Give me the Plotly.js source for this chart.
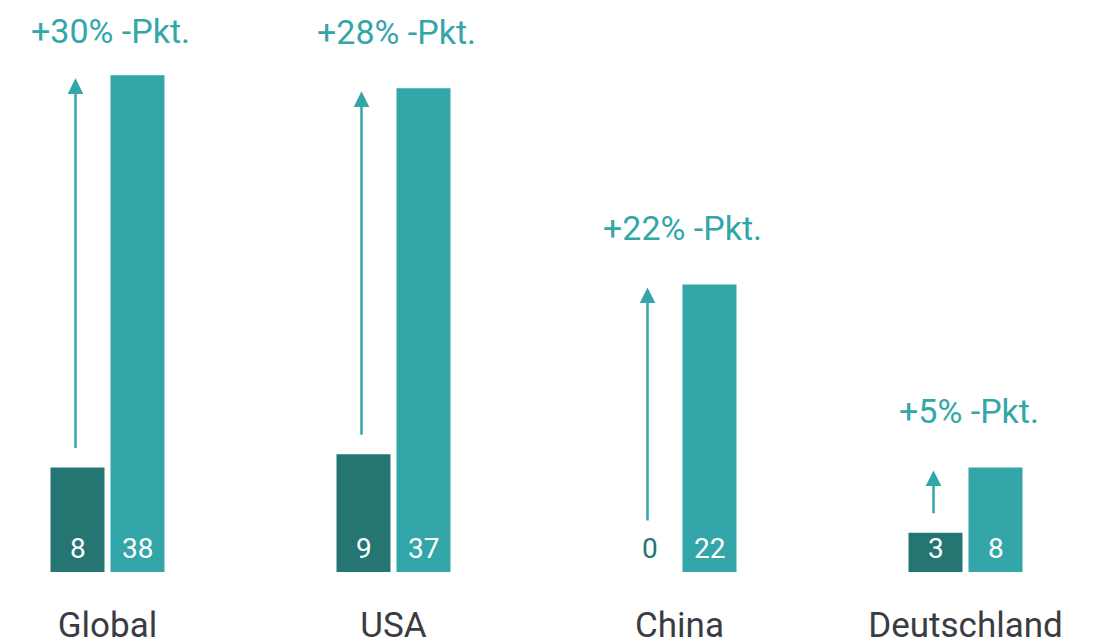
<!DOCTYPE html>
<html>
<head>
<meta charset="utf-8">
<script src="https://cdn.plot.ly/plotly-3.0.1.min.js"></script>
<style>html,body{margin:0;padding:0;background:#fff;}#chart{width:1097px;height:644px;}</style>
</head>
<body>
<div id="chart"></div>
<script>
const categories = ["Global", "USA", "China", "Deutschland"];
const before = [8, 9, 0, 3];
const after = [38, 37, 22, 8];
const changeLabels = ["+30% -Pkt.", "+28% -Pkt.", "+22% -Pkt.", "+5% -Pkt."];

const W = 1097, H = 644;
const mb = 72;
const plotH = H - mb;
const yMax = 43.76;
const pxPerUnit = plotH / yMax;
const unitPx = 286;           // px per category
const xMin = -107.5 / unitPx;
const xMax = xMin + W / unitPx;
const barW = 54 / unitPx;

const DARK = "#257573";
const LIGHT = "#32a6a8";
const TXT = "#32a6a8";

const traceBefore = {
  type: "bar", x: categories, y: before,
  width: categories.map(() => barW),
  offset: categories.map(() => -57 / unitPx),
  marker: {color: DARK}, hoverinfo: "skip"
};
const traceAfter = {
  type: "bar", x: categories, y: after,
  width: categories.map(() => barW),
  offset: categories.map(() => 3 / unitPx),
  marker: {color: LIGHT}, hoverinfo: "skip"
};

const annotations = [];
categories.forEach((c, i) => {
  const topPx = plotH - after[i] * pxPerUnit;
  const darkTopPx = plotH - before[i] * pxPerUnit;
  // change label (centre ~56px above bar top, not above 31px from top)
  const centerPx = Math.max(31, topPx - 56);
  annotations.push({
    x: c, y: after[i], xref: "x", yref: "y", xshift: 3,
    text: changeLabels[i], showarrow: false,
    yanchor: "middle", yshift: topPx - centerPx,
    font: {family: "Roboto", size: 34, color: TXT}
  });
  // arrow
  const headPx = topPx + 3;
  const tailPx = Math.min(darkTopPx, plotH - 32) - 18;
  annotations.push({
    x: c, y: after[i], xref: "x", yref: "y",
    xshift: -32, yshift: -3,
    text: "", showarrow: true, ax: 0, ay: tailPx - headPx,
    arrowhead: 2, arrowsize: 1.25, arrowwidth: 2.5, arrowcolor: LIGHT, standoff: 0
  });
  // value labels
  annotations.push({
    x: c, y: 0, xref: "x", yref: "y", xshift: -30, yshift: 23.5,
    text: String(before[i]), showarrow: false, yanchor: "middle",
    font: {family: "Roboto", size: 28, color: before[i] === 0 ? DARK : "#ffffff"}
  });
  annotations.push({
    x: c, y: 0, xref: "x", yref: "y", xshift: 30, yshift: 23.5,
    text: String(after[i]), showarrow: false, yanchor: "middle",
    font: {family: "Roboto", size: 28, color: "#ffffff"}
  });
});

const layout = {
  width: W, height: H,
  margin: {l: 0, r: 0, t: 0, b: mb, pad: 0},
  paper_bgcolor: "#ffffff", plot_bgcolor: "#ffffff",
  showlegend: false,
  barmode: "group",
  xaxis: {
    type: "category", range: [xMin, xMax], showgrid: false, zeroline: false,
    showline: false, ticks: "", ticklabelstandoff: 29,
    tickfont: {family: "Roboto", size: 35, color: "#3b3b42"}
  },
  yaxis: {range: [0, yMax], visible: false, showgrid: false, zeroline: false},
  annotations: annotations,
  font: {family: "Roboto"}
};

Plotly.newPlot("chart", [traceBefore, traceAfter], layout, {staticPlot: true, displayModeBar: false});
</script>
</body>
</html>
